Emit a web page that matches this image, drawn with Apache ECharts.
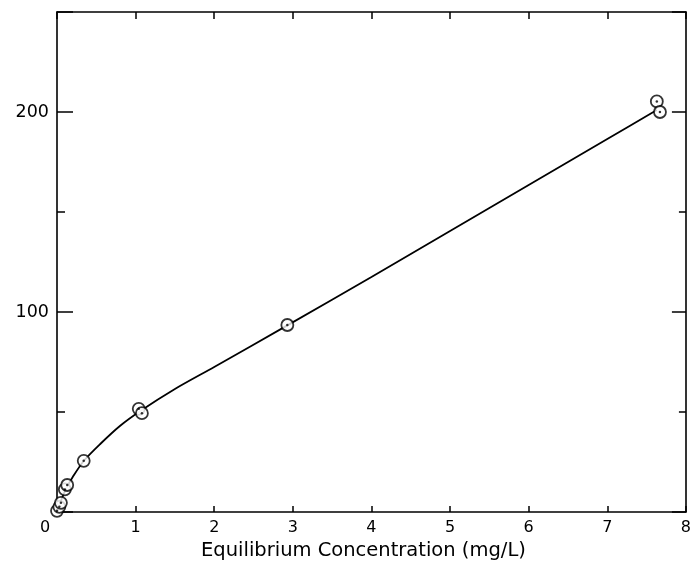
<!DOCTYPE html>
<html>
<head>
<meta charset="utf-8">
<script src="https://cdn.jsdelivr.net/npm/echarts@6/dist/echarts.min.js"></script>
<style>
  html, body { margin: 0; padding: 0; background: #fff; }
  #main { width: 694px; height: 567px; }
</style>
</head>
<body>
<div id="main"></div>
<script>
// measured points (equilibrium concentration, amount sorbed)
var concX = [0.0, 0.03, 0.05, 0.10, 0.13, 0.34, 1.04, 1.08, 2.93, 7.63, 7.67];
var sorbedY = [0.6, 2.6, 4.6, 11.3, 13.5, 25.6, 51.6, 49.4, 93.5, 205.3, 200];

// fitted curve
var curveX = [0, 0.03, 0.07, 0.12, 0.2, 0.34, 0.55, 0.8, 1.06, 1.5, 2, 2.93, 4, 5, 6, 7, 7.63];
var curveY = [0, 3.5, 7.5, 12, 17.5, 25.5, 34, 43, 50.5, 61.5, 72.5, 93.3, 117.5, 140.5, 163.5, 186.5, 201];

var xTicks = [0, 1, 2, 3, 4, 5, 6, 7, 8];
var yLabels = [100, 200];

var chart = echarts.init(document.getElementById('main'));

var pts = concX.map(function(x, i){ return [x, sorbedY[i]]; });
var curve = curveX.map(function(x, i){ return [x, curveY[i]]; });

var font = 'DejaVu Sans';
var axisLine = {show: true, onZero: false, lineStyle: {color: '#000', width: 1.6}};

chart.setOption({
  animation: false,
  backgroundColor: '#fff',
  grid: {left: 57, right: 4, top: 12, bottom: 55},
  xAxis: [{
    type: 'value', position: 'bottom',
    min: 0, max: 8, interval: 1,
    axisLine: axisLine,
    axisTick: {inside: true, length: 6, lineStyle: {color: '#000', width: 1.5}},
    splitLine: {show: false},
    axisLabel: {
      margin: 8, color: '#000', fontFamily: font, fontSize: 16,
      showMaxLabel: true, showMinLabel: true,
      formatter: function(v){
        if (xTicks.indexOf(v) < 0) return '';
        return v === 0 ? '{z|0}' : String(v);
      },
      rich: {z: {padding: [0, 24, 0, 0], fontFamily: font, fontSize: 16, color: '#000'}}
    },
    name: 'Equilibrium Concentration (mg/L)',
    nameLocation: 'middle', nameGap: 26,
    nameTextStyle: {color: '#000', fontFamily: font, fontSize: 19.5, padding: [0, 16, 0, 0]}
  }, {
    type: 'value', position: 'top',
    min: 0, max: 8, interval: 1,
    axisLine: axisLine,
    axisTick: {inside: true, length: 7, lineStyle: {color: '#000', width: 1.5}},
    axisLabel: {show: false},
    splitLine: {show: false}
  }],
  yAxis: [{
    type: 'value', position: 'left',
    min: 0, max: 250, interval: 100,
    axisLine: axisLine,
    axisTick: {inside: true, length: 16, lineStyle: {color: '#000', width: 1.5}},
    minorTick: {show: true, splitNumber: 2, length: 8, lineStyle: {color: '#000', width: 1.5}},
    splitLine: {show: false},
    minorSplitLine: {show: false},
    axisLabel: {
      margin: 8, color: '#000', fontFamily: font, fontSize: 17.5,
      formatter: function(v){ return yLabels.indexOf(v) >= 0 ? String(v) : ''; }
    }
  }, {
    type: 'value', position: 'right',
    min: 0, max: 250, interval: 100,
    axisLine: axisLine,
    axisTick: {inside: true, length: 14, lineStyle: {color: '#000', width: 1.5}},
    minorTick: {show: true, splitNumber: 2, length: 7, lineStyle: {color: '#000', width: 1.5}},
    splitLine: {show: false},
    minorSplitLine: {show: false},
    axisLabel: {show: false}
  }],
  series: [{
    type: 'line',
    xAxisIndex: 0, yAxisIndex: 0,
    data: curve,
    smooth: 0.3,
    showSymbol: false,
    lineStyle: {color: '#000', width: 1.8},
    z: 2
  }, {
    type: 'scatter',
    xAxisIndex: 0, yAxisIndex: 0,
    data: pts,
    symbol: 'circle',
    symbolSize: 12,
    itemStyle: {color: '#fff', borderColor: '#000', borderWidth: 1.8},
    z: 3
  }, {
    type: 'scatter',
    xAxisIndex: 0, yAxisIndex: 0,
    data: pts,
    symbol: 'circle',
    symbolSize: 2.5,
    itemStyle: {color: '#000'},
    z: 4
  }]
});
</script>
</body>
</html>
